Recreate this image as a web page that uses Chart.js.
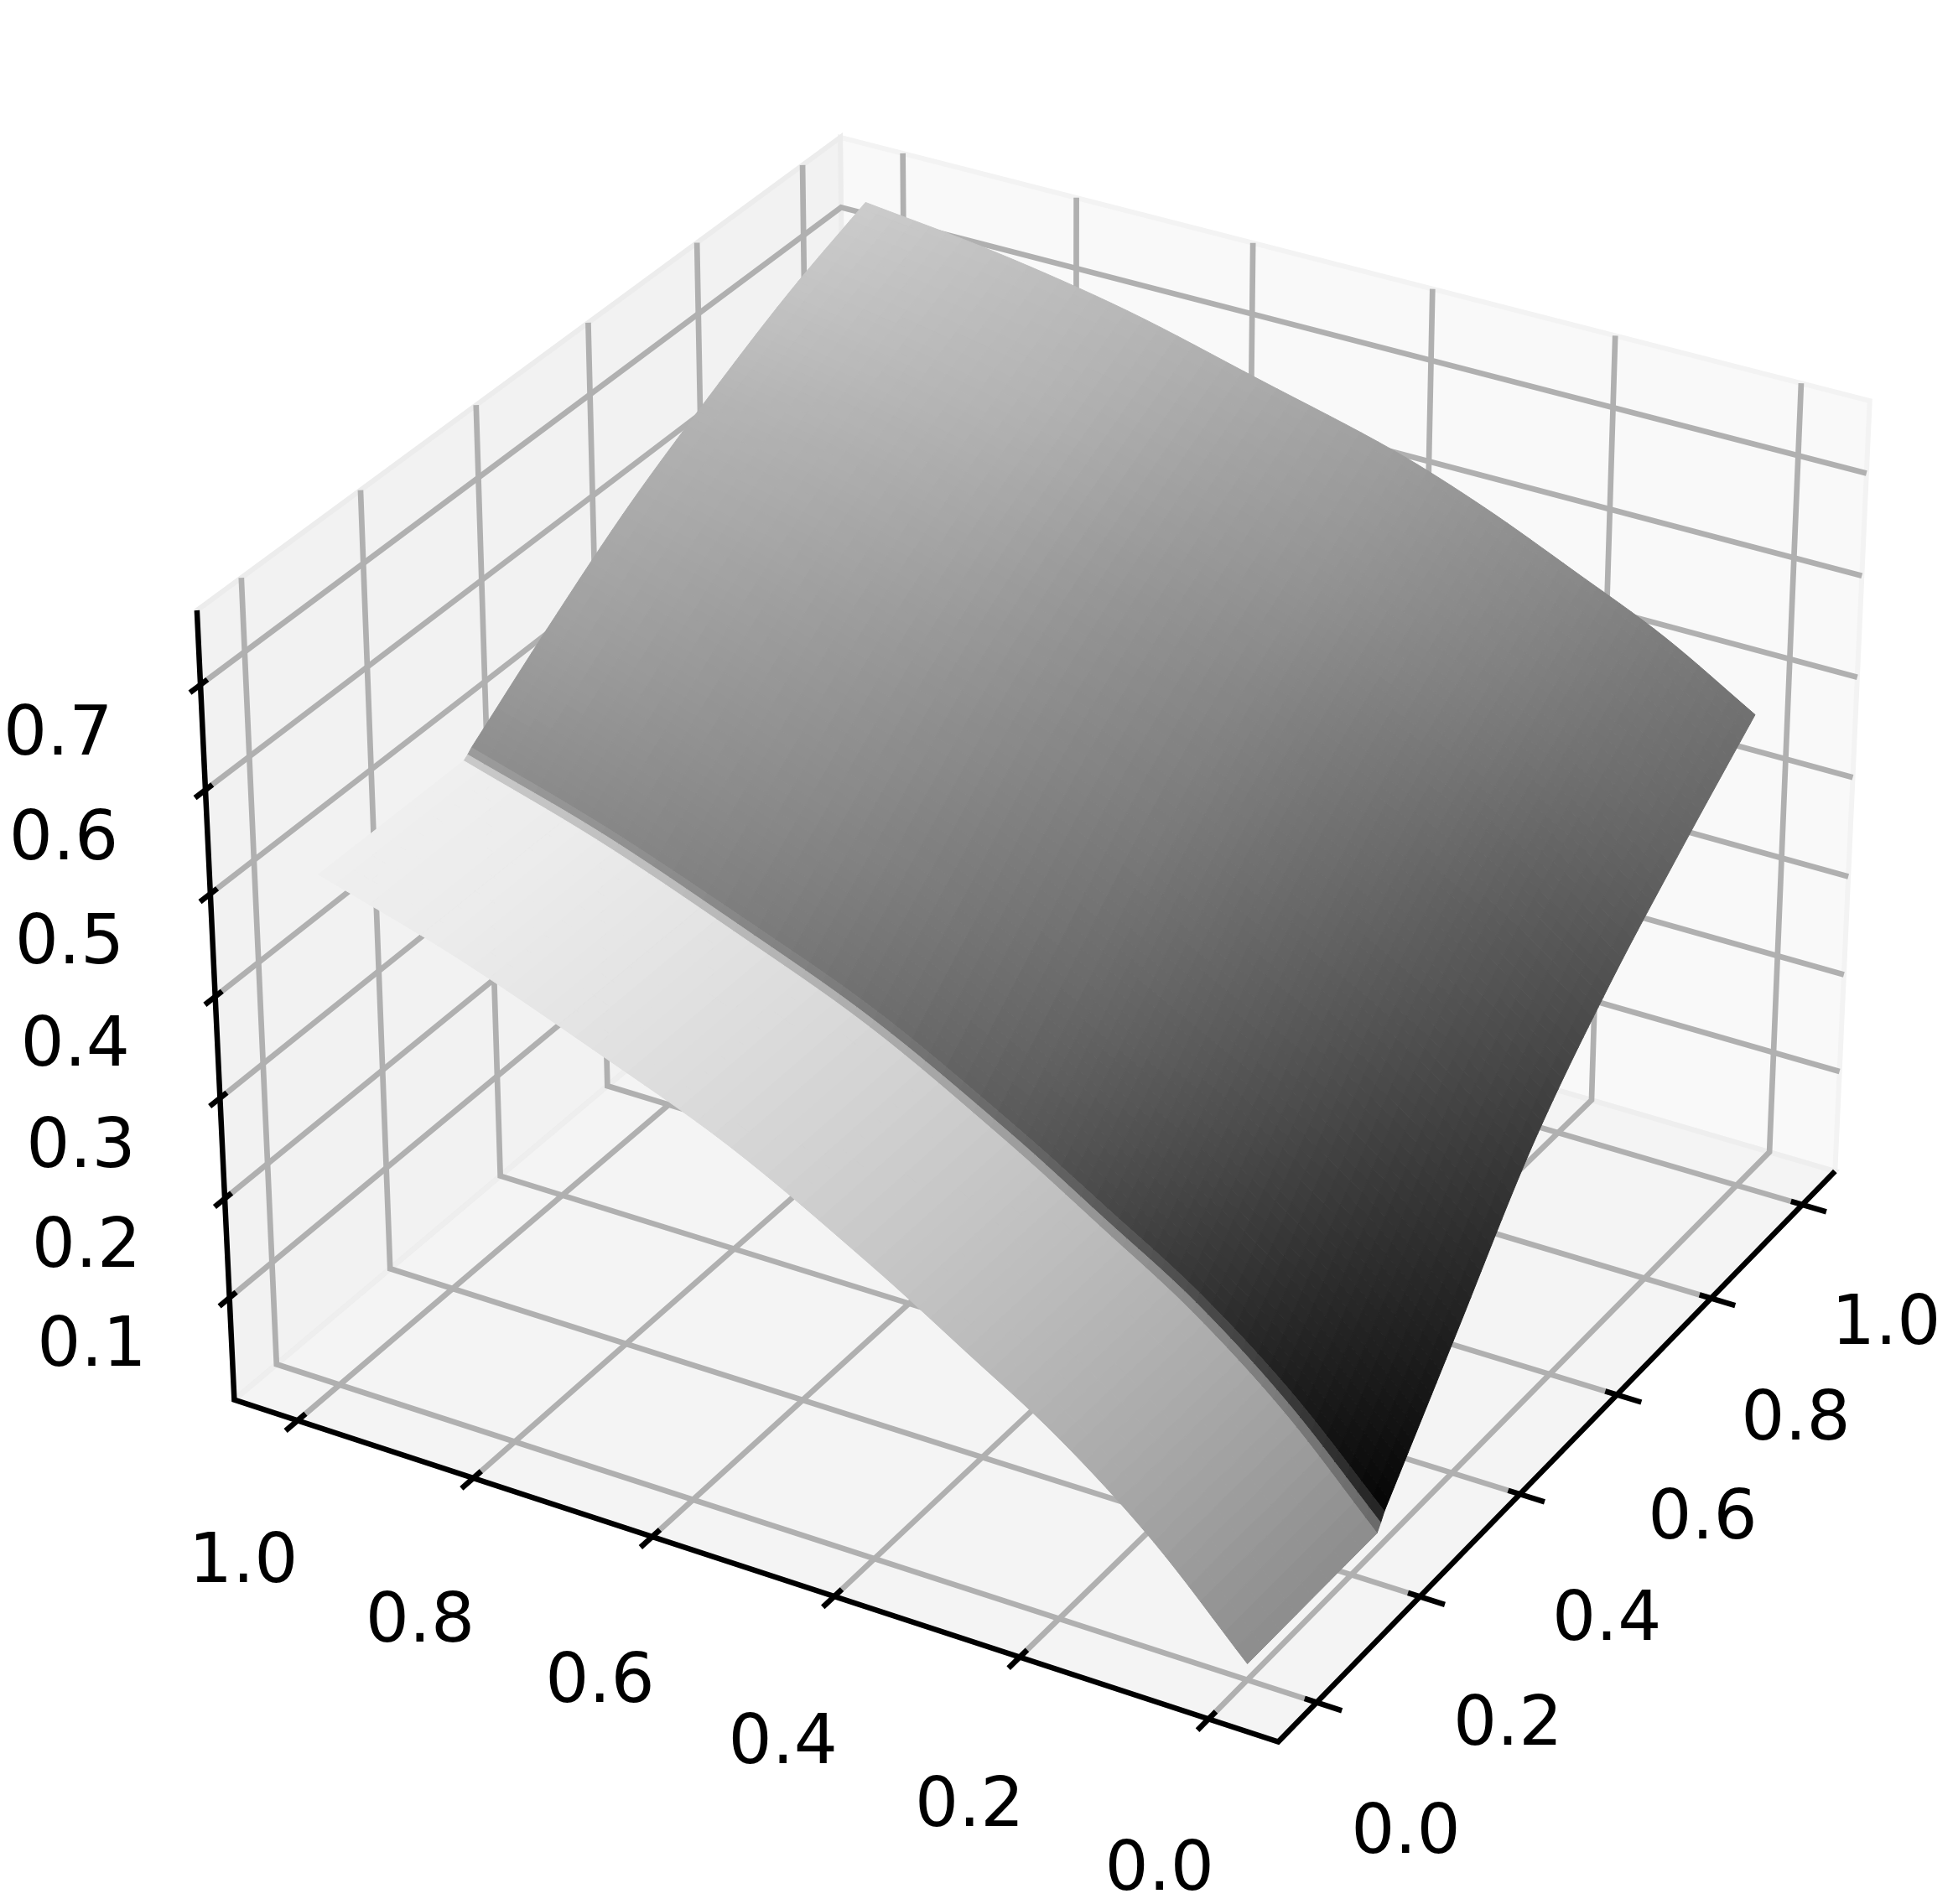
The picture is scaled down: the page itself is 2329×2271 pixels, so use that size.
<!DOCTYPE html>
<html>
<head>
<meta charset="utf-8">
<title>Superfície 3D</title>
<style>
  html, body { margin: 0; padding: 0; background: #fff; }
  canvas { display: block; }
</style>
</head>
<body>
<canvas id="grafico" width="2329" height="2271"></canvas>
<script src="https://cdn.jsdelivr.net/npm/chart.js@4"></script>
<script>
// === 3D surface drawn on a scatter chart ===

// Tick values
const xTicks = [0, 0.2, 0.4, 0.6, 0.8, 1];
const yTicks = [0, 0.2, 0.4, 0.6, 0.8, 1];
const zTicks = [0.1, 0.2, 0.3, 0.4, 0.5, 0.6, 0.7];

// Surface grid
const xCols = [0, 0.25, 0.257, 0.264, 0.4, 0.55, 0.7, 0.85, 1];
const yRows = [0, 0.1, 0.2, 0.3, 0.4, 0.55, 0.7, 0.85, 1];

const zRow0 = [0.012, 0.012, 0.019, 0.027, 0.134, 0.252, 0.339, 0.410, 0.476];
const zRow1 = [0.103, 0.103, 0.109, 0.116, 0.213, 0.321, 0.402, 0.466, 0.528];
const zRow2 = [0.175, 0.175, 0.181, 0.187, 0.276, 0.375, 0.452, 0.511, 0.569];
const zRow3 = [0.232, 0.232, 0.237, 0.243, 0.326, 0.419, 0.493, 0.552, 0.608];
const zRow4 = [0.287, 0.287, 0.292, 0.297, 0.375, 0.460, 0.529, 0.586, 0.640];
const zRow5 = [0.360, 0.360, 0.364, 0.369, 0.439, 0.516, 0.577, 0.628, 0.675];
const zRow6 = [0.415, 0.415, 0.419, 0.423, 0.487, 0.557, 0.616, 0.664, 0.709];
const zRow7 = [0.465, 0.465, 0.469, 0.472, 0.531, 0.595, 0.648, 0.693, 0.733];
const zRow8 = [0.505, 0.505, 0.508, 0.512, 0.569, 0.627, 0.674, 0.716, 0.749];
const zRows = [zRow0, zRow1, zRow2, zRow3, zRow4, zRow5, zRow6, zRow7, zRow8];

// Grey level per y row for the strips left of the crease
const greyLight = [0.55, 0.63, 0.69, 0.737, 0.78, 0.84, 0.885, 0.92, 0.938];
const greyBandA = [0.41, 0.476, 0.533, 0.58, 0.62, 0.674, 0.72, 0.753, 0.785];
const greyBandB = [0.143, 0.225, 0.296, 0.355, 0.406, 0.472, 0.529, 0.572, 0.611];

// Grey level of the large sheet, x from 0.264 to 1
const greyRow0 = [0.02, 0.12, 0.225, 0.31, 0.39, 0.44];
const greyRow1 = [0.11, 0.20, 0.30, 0.37, 0.44, 0.49];
const greyRow2 = [0.20, 0.285, 0.366, 0.431, 0.493, 0.54];
const greyRow3 = [0.28, 0.354, 0.424, 0.48, 0.539, 0.58];
const greyRow4 = [0.35, 0.415, 0.478, 0.528, 0.581, 0.62];
const greyRow5 = [0.43, 0.486, 0.541, 0.584, 0.63, 0.67];
const greyRow6 = [0.49, 0.544, 0.595, 0.646, 0.692, 0.72];
const greyRow7 = [0.53, 0.584, 0.636, 0.684, 0.73, 0.76];
const greyRow8 = [0.56, 0.625, 0.67, 0.71, 0.765, 0.80];
const greyRows = [greyRow0, greyRow1, greyRow2, greyRow3, greyRow4, greyRow5, greyRow6, greyRow7, greyRow8];

// Axis limits
const xLim = [-0.0729, 1.0729];
const yLim = [-0.0729, 1.0729];
const zLim = [-0.004, 0.77];

// Camera
const elev = 30.16;
const azim = 210.04;
const dist = 8.6;
const zoom = 12276;
const centerX = 1251;
const centerY = 1076;
const zAspect = 0.7533;

const rad = Math.PI / 180;
const wv = [Math.cos(elev * rad) * Math.cos(azim * rad), Math.cos(elev * rad) * Math.sin(azim * rad), Math.sin(elev * rad)];
const wn = Math.hypot(wv[0], wv[1]);
const uv = [-wv[1] / wn, wv[0] / wn, 0];
const vv = [
  wv[1] * uv[2] - wv[2] * uv[1],
  wv[2] * uv[0] - wv[0] * uv[2],
  wv[0] * uv[1] - wv[1] * uv[0]
];

// Box coordinates (0..1 on every side) to canvas point
function boxPoint(bx, by, bz) {
  const q = [bx - 0.5, by - 0.5, (bz - 0.5) * zAspect];
  const dot = (a) => a[0] * q[0] + a[1] * q[1] + a[2] * q[2];
  const k = zoom / (dist - dot(wv));
  return { x: centerX + dot(uv) * k, y: centerY - dot(vv) * k };
}
const fx = (v) => (v - xLim[0]) / (xLim[1] - xLim[0]);
const fy = (v) => (v - yLim[0]) / (yLim[1] - yLim[0]);
const fz = (v) => (v - zLim[0]) / (zLim[1] - zLim[0]);

const greyCss = (g) => {
  const c = Math.round(Math.min(1, Math.max(0, g)) * 255);
  return `rgb(${c},${c},${c})`;
};

// Smooth curve through table values, so the drawn facets follow the round edges
function smooth(keys, vals, k) {
  let i = 0;
  while (i < keys.length - 2 && k > keys[i + 1]) i++;
  const last = keys.length - 1;
  const slope = (j) => (vals[Math.min(j + 1, last)] - vals[Math.max(j - 1, 0)]) / (keys[Math.min(j + 1, last)] - keys[Math.max(j - 1, 0)]);
  const h = keys[i + 1] - keys[i];
  const t = (k - keys[i]) / h;
  const t2 = t * t;
  const t3 = t2 * t;
  return (2 * t3 - 3 * t2 + 1) * vals[i] + (t3 - 2 * t2 + t) * h * slope(i) +
    (-2 * t3 + 3 * t2) * vals[i + 1] + (t3 - t2) * h * slope(i + 1);
}
const lerp = (a, b, t) => a + (b - a) * t;
const sheetCols = xCols.slice(3);

// Height on the surface, in cell column c
function zOnSurface(c, x, y) {
  const across = xCols.map((_, j) => smooth(yRows, zRows.map((row) => row[j]), y));
  if (c >= 3) return smooth(sheetCols, across.slice(3), x);
  return lerp(across[c], across[c + 1], (x - xCols[c]) / (xCols[c + 1] - xCols[c]));
}
function greyOnSurface(c, x, y) {
  if (c === 0) return smooth(yRows, greyLight, y);
  if (c === 1) return smooth(yRows, greyBandA, y);
  if (c === 2) return smooth(yRows, greyBandB, y);
  const across = sheetCols.map((_, j) => smooth(yRows, greyRows.map((row) => row[j]), y));
  return smooth(sheetCols, across, x);
}

// Datasets are collected in paint order, and reversed at the end
const layers = [];

function addPolygon(points, color) {
  layers.push({
    data: [...points, points[0]],
    showLine: true,
    fill: 'shape',
    backgroundColor: color,
    borderColor: color,
    borderWidth: 1,
    pointRadius: 0
  });
}
function addLine(points, color, width) {
  layers.push({
    data: points,
    showLine: true,
    fill: false,
    borderColor: color,
    borderWidth: width,
    borderJoinStyle: 'miter',
    pointRadius: 0
  });
}

// Panes
const floorPane = [boxPoint(0, 0, 0), boxPoint(1, 0, 0), boxPoint(1, 1, 0), boxPoint(0, 1, 0)];
const leftPane = [boxPoint(0, 1, 0), boxPoint(1, 1, 0), boxPoint(1, 1, 1), boxPoint(0, 1, 1)];
const rightPane = [boxPoint(1, 0, 0), boxPoint(1, 1, 0), boxPoint(1, 1, 1), boxPoint(1, 0, 1)];
addPolygon(rightPane, '#f9f9f9');
addPolygon(leftPane, '#f2f2f2');
addPolygon(floorPane, '#f4f4f4');
addLine([boxPoint(1, 0, 0), boxPoint(1, 0, 1), boxPoint(1, 1, 1), boxPoint(1, 1, 0), boxPoint(1, 0, 0)], '#f3f3f3', 6);
addLine([boxPoint(0, 1, 0), boxPoint(0, 1, 1), boxPoint(1, 1, 1), boxPoint(1, 1, 0), boxPoint(0, 1, 0)], '#ececec', 6);
addLine([boxPoint(0, 0, 0), boxPoint(1, 0, 0), boxPoint(1, 1, 0), boxPoint(0, 1, 0), boxPoint(0, 0, 0)], '#eeeeee', 6);

// Grid lines
const gridColor = '#b0b0b0';
const gridWidth = 6.7;
xTicks.forEach((t) => addLine([boxPoint(fx(t), 0, 0), boxPoint(fx(t), 1, 0), boxPoint(fx(t), 1, 1)], gridColor, gridWidth));
yTicks.forEach((t) => addLine([boxPoint(0, fy(t), 0), boxPoint(1, fy(t), 0), boxPoint(1, fy(t), 1)], gridColor, gridWidth));
zTicks.forEach((t) => addLine([boxPoint(0, 1, fz(t)), boxPoint(1, 1, fz(t)), boxPoint(1, 0, fz(t))], gridColor, gridWidth));

// Surface: every grid cell is split into small flat facets, far ones first
const rowSplit = 8;
for (let r = yRows.length - 2; r >= 0; r--) {
  for (let rs = rowSplit - 1; rs >= 0; rs--) {
    for (let c = xCols.length - 2; c >= 0; c--) {
      const colSplit = c === 1 || c === 2 ? 1 : (c === 0 ? 8 : 15);
      for (let cs = colSplit - 1; cs >= 0; cs--) {
        const xAt = (i) => lerp(xCols[c], xCols[c + 1], (cs + i) / colSplit);
        const yAt = (j) => lerp(yRows[r], yRows[r + 1], (rs + j) / rowSplit);
        const corner = (i, j) => boxPoint(fx(xAt(i)), fy(yAt(j)), fz(zOnSurface(c, xAt(i), yAt(j))));
        const quad = [corner(0, 0), corner(1, 0), corner(1, 1), corner(0, 1)];
        addPolygon(quad, greyCss(greyOnSurface(c, xAt(0.5), yAt(0.5))));
      }
    }
  }
}

// Axis lines and ticks
const axisWidth = 6.5;
addLine([boxPoint(1, 0, 0), boxPoint(0, 0, 0), boxPoint(0, 1, 0), boxPoint(0, 1, 1)], '#000', axisWidth);
xTicks.forEach((t) => addLine([boxPoint(fx(t), 0.011, 0), boxPoint(fx(t), -0.023, 0)], '#000', axisWidth));
yTicks.forEach((t) => addLine([boxPoint(0.012, fy(t), 0), boxPoint(-0.018, fy(t), 0)], '#000', axisWidth));
zTicks.forEach((t) => addLine([boxPoint(0.010, 1, fz(t)), boxPoint(-0.015, 1, fz(t))], '#000', axisWidth));

// Tick labels
const tickLabels = {
  id: 'tickLabels',
  afterDatasetsDraw(chart) {
    const { ctx, scales } = chart;
    const put = (text, pos) => {
      ctx.fillText(text, scales.x.getPixelForValue(pos.x), scales.y.getPixelForValue(pos.y));
    };
    ctx.save();
    ctx.fillStyle = '#000';
    ctx.font = '82px "DejaVu Sans"';
    ctx.textAlign = 'center';
    ctx.textBaseline = 'middle';
    xTicks.forEach((t) => put(t.toFixed(1), boxPoint(fx(t) + 0.004 * t, -0.083, -0.133)));
    yTicks.forEach((t) => put(t.toFixed(1), boxPoint(-0.082, fy(t) + 0.006 * t - 0.002, -0.13)));
    zTicks.forEach((t) => put(t.toFixed(1), boxPoint(-0.1213, 1.0552, fz(t) - 0.0105 * (t - 0.1))));
    ctx.restore();
  }
};

// The first dataset is painted on top in Chart.js
const config = {
  type: 'scatter',
  data: { datasets: layers.reverse() },
  plugins: [tickLabels],
  options: {
    responsive: false,
    animation: false,
    events: [],
    layout: { padding: 0 },
    plugins: {
      legend: { display: false },
      title: { display: false },
      tooltip: { enabled: false }
    },
    scales: {
      x: { type: 'linear', display: false, min: 0, max: 2329 },
      y: { type: 'linear', display: false, min: 0, max: 2271, reverse: true }
    }
  }
};

new Chart(document.getElementById('grafico'), config);
</script>
</body>
</html>
